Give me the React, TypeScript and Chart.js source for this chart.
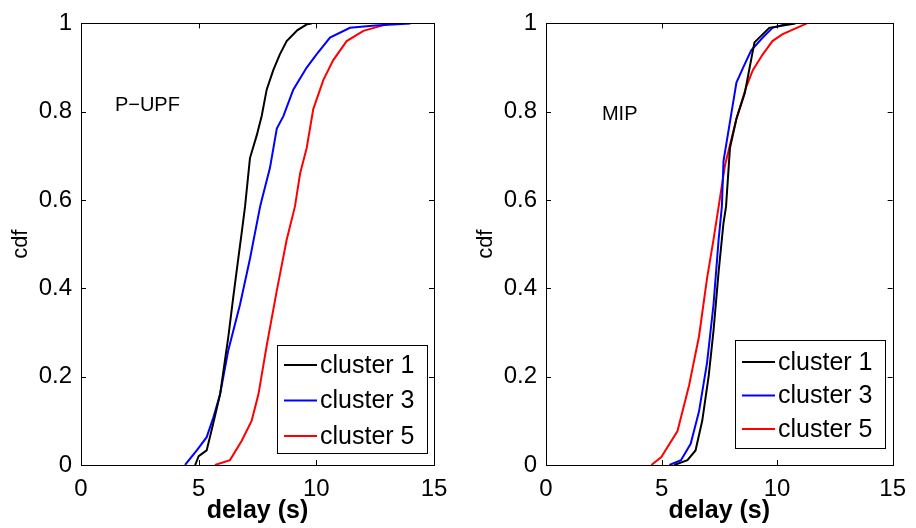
import React, { useEffect, useRef } from "react";
import { Chart, registerables } from "chart.js";

Chart.register(...registerables);

// ---- Data ----
const xTicks = [0, 5, 10, 15];
const yTicks = [0, 0.2, 0.4, 0.6, 0.8, 1];
const seriesLabels = ["cluster 1", "cluster 3", "cluster 5"];
const seriesColors = ["#000000", "#0000ff", "#ff0000"];

// P-UPF panel
const pupfC1X = [4.85, 5.0, 5.34, 5.6, 5.91, 6.26, 6.47, 6.69, 6.83, 6.97, 7.18, 7.47, 7.68, 7.89, 8.17, 8.45, 8.74, 9.2, 9.6, 9.8];
const pupfC1Y = [0, 0.02, 0.033, 0.09, 0.16, 0.29, 0.38, 0.47, 0.527, 0.585, 0.695, 0.747, 0.791, 0.85, 0.894, 0.93, 0.96, 0.985, 0.998, 1.0];
const pupfC3X = [4.42, 4.92, 5.34, 5.62, 5.91, 6.26, 6.76, 7.18, 7.61, 7.68, 8.03, 8.32, 8.6, 9.02, 9.59, 10.01, 10.58, 11.43, 12.5, 14.0];
const pupfC3Y = [0, 0.033, 0.063, 0.107, 0.16, 0.26, 0.364, 0.467, 0.585, 0.6, 0.673, 0.762, 0.79, 0.85, 0.9, 0.93, 0.968, 0.99, 0.995, 1.0];
const pupfC5X = [5.69, 6.33, 6.83, 7.25, 7.54, 7.89, 8.32, 8.74, 9.09, 9.31, 9.59, 9.87, 10.3, 10.72, 11.29, 12.0, 13.13];
const pupfC5Y = [0, 0.011, 0.055, 0.1, 0.16, 0.27, 0.395, 0.51, 0.585, 0.66, 0.718, 0.806, 0.872, 0.917, 0.96, 0.983, 1.0];

// MIP panel
const mipC1X = [5.55, 6.12, 6.47, 6.76, 7.04, 7.25, 7.47, 7.68, 7.79, 7.96, 8.24, 8.6, 9.02, 9.66, 10.79];
const mipC1Y = [0, 0.011, 0.033, 0.1, 0.202, 0.305, 0.438, 0.548, 0.585, 0.718, 0.784, 0.842, 0.957, 0.99, 1.0];
const mipC3X = [5.34, 5.84, 6.26, 6.62, 6.97, 7.25, 7.47, 7.61, 7.68, 7.96, 8.24, 8.53, 8.88, 9.38, 9.8, 10.5];
const mipC3Y = [0, 0.011, 0.048, 0.121, 0.232, 0.364, 0.511, 0.585, 0.688, 0.777, 0.866, 0.9, 0.939, 0.968, 0.99, 1.0];
const mipC5X = [4.56, 4.99, 5.69, 6.19, 6.62, 6.97, 7.25, 7.47, 7.75, 8.24, 8.67, 8.95, 9.38, 9.8, 10.22, 11.29];
const mipC5Y = [0, 0.018, 0.077, 0.18, 0.291, 0.423, 0.511, 0.585, 0.68, 0.784, 0.857, 0.894, 0.93, 0.96, 0.975, 1.0];

const FONT = "'Liberation Sans', Arial, Helvetica, sans-serif";

type Panel = {
  title: string;
  titleX: number;
  titleY: number;
  xs: number[][];
  ys: number[][];
  canvasLeft: number;
  canvasWidth: number;
  padRight: number;
  legendLeft: number;
  legendTop: number;
  rowGap: number;
  rowStart: number;
};

const panels: Panel[] = [
  {
    title: "P\u2212UPF",
    titleX: 1.44,
    titleY: 0.801,
    xs: [pupfC1X, pupfC3X, pupfC5X],
    ys: [pupfC1Y, pupfC3Y, pupfC5Y],
    canvasLeft: 0,
    canvasWidth: 458,
    padRight: 24,
    legendLeft: 277,
    legendTop: 345,
    rowStart: 20,
    rowGap: 35.5,
  },
  {
    title: "MIP",
    titleX: 2.42,
    titleY: 0.781,
    xs: [mipC1X, mipC3X, mipC5X],
    ys: [mipC1Y, mipC3Y, mipC5Y],
    canvasLeft: 465,
    canvasWidth: 451,
    padRight: 17,
    legendLeft: 270,
    legendTop: 340,
    rowStart: 22,
    rowGap: 33.5,
  },
];

const CANVAS_H = 528;
const PLOT_TOP = 12;
const PLOT_BOTTOM = 465;
const PLOT_LEFT = 81;
const LEGEND_W = 150;
const LEGEND_H = 108;

function makeBoxPlugin(p: Panel) {
  return {
    id: "boxAndLegend",
    afterDatasetsDraw(chart: any) {
      const ctx = chart.ctx;
      const a = chart.chartArea;
      const xs = chart.scales.x;
      const ys = chart.scales.y;
      ctx.save();
      // box
      ctx.strokeStyle = "#000";
      ctx.lineWidth = 1;
      ctx.strokeRect(Math.round(a.left) + 0.5, Math.round(a.top) + 0.5, Math.round(a.right - a.left), Math.round(a.bottom - a.top));
      // inward ticks on all sides
      const tl = 5;
      xTicks.forEach((v) => {
        const px = Math.round(xs.getPixelForValue(v)) + 0.5;
        ctx.beginPath();
        ctx.moveTo(px, a.bottom);
        ctx.lineTo(px, a.bottom - tl);
        ctx.moveTo(px, a.top);
        ctx.lineTo(px, a.top + tl);
        ctx.stroke();
      });
      yTicks.forEach((v) => {
        const py = Math.round(ys.getPixelForValue(v)) + 0.5;
        ctx.beginPath();
        ctx.moveTo(a.left, py);
        ctx.lineTo(a.left + tl, py);
        ctx.moveTo(a.right, py);
        ctx.lineTo(a.right - tl, py);
        ctx.stroke();
      });
      // annotation text
      ctx.fillStyle = "#000";
      ctx.font = `20px ${FONT}`;
      ctx.textAlign = "left";
      ctx.textBaseline = "alphabetic";
      ctx.fillText(p.title, xs.getPixelForValue(p.titleX), ys.getPixelForValue(p.titleY));
      // legend
      const lx = p.legendLeft + 0.5;
      const ly = p.legendTop + 0.5;
      ctx.fillStyle = "#fff";
      ctx.fillRect(lx, ly, LEGEND_W, LEGEND_H);
      ctx.strokeStyle = "#000";
      ctx.lineWidth = 1;
      ctx.strokeRect(lx, ly, LEGEND_W, LEGEND_H);
      ctx.font = `25px ${FONT}`;
      ctx.textBaseline = "middle";
      chart.data.datasets.forEach((ds: any, i: number) => {
        const rowY = p.legendTop + p.rowStart + i * p.rowGap;
        ctx.strokeStyle = ds.borderColor;
        ctx.lineWidth = 2;
        ctx.beginPath();
        ctx.moveTo(p.legendLeft + 7, rowY);
        ctx.lineTo(p.legendLeft + 40, rowY);
        ctx.stroke();
        ctx.fillStyle = "#000";
        ctx.fillText(ds.label, p.legendLeft + 43, rowY + 1);
      });
      ctx.restore();
    },
  };
}

function PanelChart({ p }: { p: Panel }) {
  const ref = useRef<HTMLCanvasElement | null>(null);
  useEffect(() => {
    if (!ref.current) return;
    const datasets = seriesLabels.map((label, i) => ({
      label,
      data: p.xs[i].map((x, j) => ({ x, y: p.ys[i][j] })),
      borderColor: seriesColors[i],
      backgroundColor: seriesColors[i],
      borderWidth: 2,
      pointRadius: 0,
      tension: 0,
      fill: false,
    }));
    const chart = new Chart(ref.current, {
      type: "line",
      data: { datasets },
      options: {
        animation: false,
        responsive: false,
        maintainAspectRatio: false,
        events: [],
        layout: { padding: { top: PLOT_TOP, right: p.padRight, left: 0, bottom: 0 } },
        plugins: { legend: { display: false }, tooltip: { enabled: false } },
        scales: {
          x: {
            type: "linear",
            min: 0,
            max: 15,
            afterBuildTicks: (s: any) => {
              s.ticks = xTicks.map((v) => ({ value: v }));
            },
            afterFit: (s: any) => {
              s.height = CANVAS_H - PLOT_BOTTOM;
            },
            grid: { display: false, drawTicks: false },
            border: { display: false },
            ticks: {
              color: "#000",
              font: { family: FONT, size: 24 },
              padding: 10,
              maxRotation: 0,
              autoSkip: false,
            },
            title: {
              display: true,
              text: "delay (s)",
              color: "#000",
              font: { family: FONT, size: 25, weight: "bold" },
              padding: { top: 0, bottom: 2 },
            },
          },
          y: {
            type: "linear",
            min: 0,
            max: 1,
            afterBuildTicks: (s: any) => {
              s.ticks = yTicks.map((v) => ({ value: v }));
            },
            afterFit: (s: any) => {
              s.width = PLOT_LEFT;
            },
            grid: { display: false, drawTicks: false },
            border: { display: false },
            ticks: {
              color: "#000",
              font: { family: FONT, size: 24 },
              padding: 9,
              autoSkip: false,
              callback: (v: any) => String(Number(v)),
            },
            title: {
              display: true,
              text: "cdf",
              color: "#000",
              font: { family: FONT, size: 22 },
              padding: { top: 8, bottom: 0 },
            },
          },
        },
      } as any,
      plugins: [makeBoxPlugin(p)],
    });
    return () => chart.destroy();
  }, [p]);
  return (
    <canvas
      ref={ref}
      width={p.canvasWidth}
      height={CANVAS_H}
      style={{ position: "absolute", left: p.canvasLeft, top: 0, width: p.canvasWidth, height: CANVAS_H }}
    />
  );
}

export default function App() {
  return (
    <div style={{ position: "fixed", left: 0, top: 0, width: 916, height: 528, background: "#fff" }}>
      {panels.map((p) => (
        <PanelChart key={p.title} p={p} />
      ))}
    </div>
  );
}
